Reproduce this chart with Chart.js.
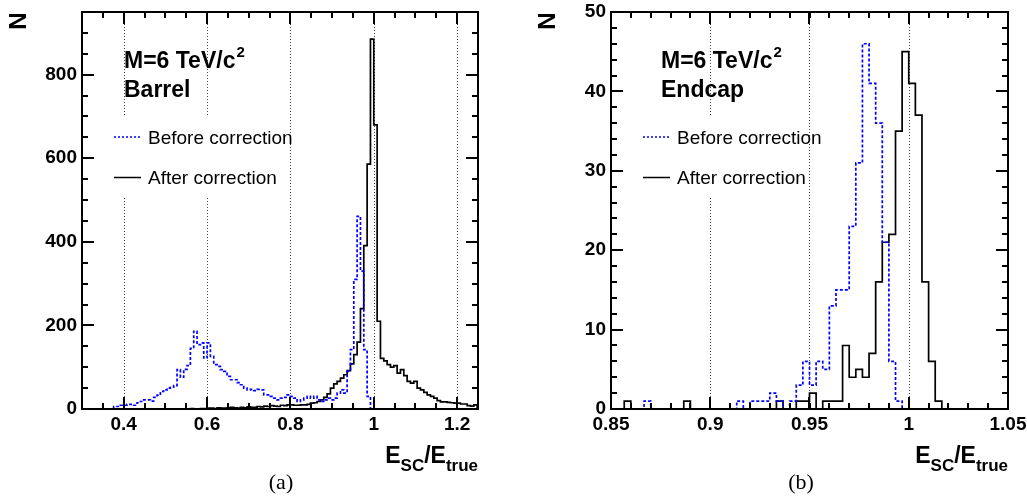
<!DOCTYPE html>
<html>
<head>
<meta charset="utf-8">
<script src="https://cdn.jsdelivr.net/npm/chart.js@4/dist/chart.umd.min.js"></script>
<style>
  html, body { margin: 0; padding: 0; background: #fff; }
  #wrap { position: relative; width: 1027px; height: 497px; }
  canvas { position: absolute; top: 0; }
  #barrelChart { left: 0; }
  #endcapChart { left: 520px; }
</style>
</head>
<body>
<div id="wrap">
  <canvas id="barrelChart" width="510" height="497"></canvas>
  <canvas id="endcapChart" width="507" height="497"></canvas>
</div>
<script>
// (a) Barrel: bins of 0.008 in E_SC/E_true, first bin starts at 0.304
const barrelStart = 0.304;
const barrelWidth = 0.008;
const barrelBefore = [
  0, 0, 0, 0, 0, 0, 0, 0, 0,
  6, 6, 9, 9, 11, 11, 9, 15, 18, 22, 22, 19,
  28, 33, 42, 46, 50, 52, 56, 94, 76, 95, 104, 145,
  186, 154, 158, 122, 158, 126, 106, 102, 94, 90, 78, 70,
  70, 63, 58, 50, 46, 47, 44, 47, 46, 34, 34, 30,
  26, 22, 26, 28, 34, 30, 26, 18, 22, 26, 30, 26,
  30, 22, 18, 22, 26, 22, 26, 38, 46, 38, 90, 142,
  310, 461, 330, 142, 30,
  0, 0, 0, 0, 0, 0, 0, 0, 0, 0, 0, 0, 0, 0, 0, 0,
  0, 0, 0, 0, 0, 0, 0, 0, 0, 0, 0, 0, 0, 0, 0, 0
];
const barrelAfter = [
  0, 0, 0, 0, 0, 0, 0, 0, 0, 0, 0, 0, 0, 0, 0, 0,
  0, 0, 0, 0, 0, 0, 0, 0, 0, 0, 0, 0, 0, 0, 0,
  0, 1, 0, 0, 1, 1, 2,
  2, 1, 3, 2, 2, 3, 4, 3, 2, 4, 3, 5, 4,
  4, 6, 5, 7, 6, 8, 7, 6, 9, 8, 10,
  10, 9, 9, 10, 10, 11, 14, 15, 18, 22,
  28, 36, 50, 60, 66, 74, 82, 92, 108, 130, 160, 240,
  391, 586, 885, 680, 210, 121,
  115, 106, 100, 104, 86, 94, 80, 66, 62, 66, 50, 46, 40, 34,
  30, 26, 20, 17, 17, 16, 15, 14, 14, 12, 12, 8, 7, 10
];
const barrelTicksX = [0.4, 0.6, 0.8, 1.0, 1.2];
const barrelTicksY = [0, 200, 400, 600, 800];

// (b) Endcap: 60 bins between 0.85 and 1.05
const endcapStart = 0.85;
const endcapWidth = 0.2 / 60;
const endcapBefore = [
  0, 0, 0, 0, 0, 1, 0, 0, 0, 0,
  0, 0, 0, 0, 0, 0, 0, 0, 0, 1,
  0, 1, 1, 1, 2, 1, 0, 1, 3, 6,
  3, 6, 5, 13, 15, 15, 23, 31, 46, 41,
  36, 21, 6, 1, 0, 0, 0, 0, 0, 0,
  0, 0, 0, 0, 0, 0, 0, 0, 0, 0
];
const endcapAfter = [
  0, 0, 1, 0, 0, 0, 0, 0, 0, 0,
  0, 1, 0, 0, 0, 0, 0, 0, 0, 0,
  0, 0, 0, 0, 0, 1, 0, 0, 1, 1,
  2, 0, 1, 1, 1, 8, 4, 5, 4, 7,
  16, 21, 22, 35, 45, 41, 37, 16, 6, 1,
  0, 0, 0, 0, 0, 0, 0, 0, 0, 0
];
const endcapTicksX = [0.85, 0.9, 0.95, 1.0, 1.05];
const endcapTicksY = [0, 10, 20, 30, 40, 50];

const BLUE = '#0000ff';
const SANS = '"Liberation Sans", Arial, Helvetica, sans-serif';

// evenly spaced minor tick values between lo and hi
const minorTicks = (lo, hi, step) => {
  const out = [];
  const n0 = Math.round(lo / step), n1 = Math.round(hi / step);
  for (let i = n0; i <= n1; i++) out.push(i * step);
  return out;
};

// bin contents -> points for a stepped outline (horizontal first, then vertical)
const toSteps = (start, width, counts) => {
  const pts = [{ x: start, y: 0 }];
  counts.forEach((n, i) => pts.push({ x: start + i * width, y: n }));
  pts.push({ x: start + counts.length * width, y: 0 });
  return pts;
};

const fmt = v => String(parseFloat(v.toFixed(3)));

// ROOT-like frame with inner ticks, drawn as filled rectangles
const drawFrame = (chart, cfg) => {
  const { ctx, chartArea: a, scales: { x, y } } = chart;
  const L = Math.round(a.left), R = Math.round(a.right);
  const T = Math.round(a.top), B = Math.round(a.bottom);
  ctx.save();
  ctx.globalAlpha = 1;
  ctx.globalCompositeOperation = 'source-over';
  ctx.fillStyle = '#000';
  const tickX = (v, len) => {
    const px = Math.round(x.getPixelForValue(v));
    ctx.fillRect(px - 1, B - len, 2, len);
    ctx.fillRect(px - 1, T, 2, len);
  };
  const tickY = (v, len) => {
    const py = Math.round(y.getPixelForValue(v));
    ctx.fillRect(L, py - 1, len, 2);
    ctx.fillRect(R - len, py - 1, len, 2);
  };
  cfg.minorX.forEach(v => tickX(v, 6));
  cfg.ticksX.forEach(v => tickX(v, 12));
  cfg.minorY.forEach(v => tickY(v, 6));
  cfg.ticksY.forEach(v => tickY(v, 12));
  // frame sides
  ctx.fillRect(L - 1, T - 1, R - L + 2, 2);
  ctx.fillRect(L - 1, B - 1, R - L + 2, 2);
  ctx.fillRect(L - 1, T - 1, 2, B - T + 2);
  ctx.fillRect(R - 1, T - 1, 2, B - T + 2);
  ctx.restore();
};

const makeExtras = (cfg) => ({
  id: 'panelExtras',
  beforeDatasetsDraw(chart) {
    const { ctx, chartArea: a, scales: { x } } = chart;
    ctx.save();
    ctx.strokeStyle = '#444';
    ctx.lineWidth = 1;
    ctx.setLineDash([1, 2]);
    cfg.gridX.forEach(v => {
      const px = Math.round(x.getPixelForValue(v)) + 0.5;
      ctx.beginPath();
      ctx.moveTo(px, a.top);
      ctx.lineTo(px, a.bottom);
      ctx.stroke();
    });
    ctx.restore();
  },
  afterDatasetsDraw(chart) {
    const { ctx, chartArea: a } = chart;
    ctx.save();

    // legend box (white, hides grid lines)
    ctx.fillStyle = '#fff';
    ctx.fillRect(a.left + cfg.box[0], cfg.box[1], cfg.box[2], cfg.box[3]);

    const lx = a.left + cfg.legendX;
    ctx.lineWidth = 1.5;
    ctx.strokeStyle = BLUE;
    ctx.setLineDash([2, 2]);
    ctx.beginPath();
    ctx.moveTo(lx, 137);
    ctx.lineTo(lx + 27, 137);
    ctx.stroke();
    ctx.setLineDash([]);
    ctx.strokeStyle = '#000';
    ctx.beginPath();
    ctx.moveTo(lx, 177.5);
    ctx.lineTo(lx + 27, 177.5);
    ctx.stroke();

    ctx.fillStyle = '#000';
    ctx.textAlign = 'left';
    ctx.textBaseline = 'alphabetic';
    ctx.font = '19px ' + SANS;
    ctx.fillText('Before correction', lx + 34, 144);
    ctx.fillText('After correction', lx + 34, 184);

    // mass and region label
    const tx = a.left + cfg.labelX;
    ctx.font = 'bold 23px ' + SANS;
    ctx.fillText('M=6 TeV/c', tx, 68);
    const mw = ctx.measureText('M=6 TeV/c').width;
    ctx.fillText(cfg.region, tx, 97);
    ctx.font = 'bold 15px ' + SANS;
    ctx.fillText('2', tx + mw + 1, 57);

    // y title "N"
    ctx.save();
    ctx.translate(a.left - 63, 21);
    ctx.rotate(-Math.PI / 2);
    ctx.textAlign = 'center';
    ctx.textBaseline = 'middle';
    ctx.font = 'bold 24px ' + SANS;
    ctx.fillText('N', 0, 0);
    ctx.restore();

    // x title E_SC / E_true, right aligned to the frame
    const big = 'bold 23px ' + SANS, small = 'bold 17px ' + SANS;
    const parts = [['E', big, 0], ['SC', small, 8], ['/', big, 0], ['E', big, 0], ['true', small, 8]];
    let total = 0;
    parts.forEach(p => { ctx.font = p[1]; total += ctx.measureText(p[0]).width; });
    let cx = a.right - total;
    parts.forEach(p => {
      ctx.font = p[1];
      ctx.fillText(p[0], cx, 463 + p[2]);
      cx += ctx.measureText(p[0]).width;
    });

    // panel tag
    ctx.textAlign = 'center';
    ctx.font = '22px "Liberation Serif", "Times New Roman", serif';
    ctx.fillText(cfg.tag, a.left + cfg.tagX, 489);

    ctx.restore();
    drawFrame(chart, cfg);
  },
  afterDraw(chart) {
    drawFrame(chart, cfg);
  },
});

const makeHistChart = (id, cfg) => {
  const ctx = document.getElementById(id).getContext('2d');
  return new Chart(ctx, {
    type: 'line',
    data: {
      datasets: [
        {
          label: 'Before correction',
          data: toSteps(cfg.start, cfg.width, cfg.before),
          borderColor: BLUE,
          borderWidth: 1.7,
          borderDash: [3, 2],
          stepped: true,
          pointRadius: 0,
          fill: false,
        },
        {
          label: 'After correction',
          data: toSteps(cfg.start, cfg.width, cfg.after),
          borderColor: '#000',
          borderWidth: 1.7,
          stepped: true,
          pointRadius: 0,
          fill: false,
        },
      ],
    },
    options: {
      responsive: false,
      animation: false,
      devicePixelRatio: 1,
      layout: { padding: { top: 12, right: cfg.padRight, left: 0, bottom: 0 } },
      plugins: {
        legend: { display: false },
        tooltip: { enabled: false },
      },
      scales: {
        x: {
          type: 'linear',
          min: cfg.xMin,
          max: cfg.xMax,
          grid: { display: false, drawTicks: false },
          border: { display: false },
          afterBuildTicks: s => { s.ticks = cfg.ticksX.map(value => ({ value })); },
          afterFit: s => { s.height = 88; s.paddingLeft = 0; s.paddingRight = 0; },
          ticks: {
            autoSkip: false,
            maxRotation: 0,
            padding: 4,
            color: '#000',
            font: { family: SANS, weight: 'bold', size: 19 },
            callback: v => fmt(v),
          },
        },
        y: {
          min: 0,
          max: cfg.yMax,
          grid: { display: false, drawTicks: false },
          border: { display: false },
          afterBuildTicks: s => { s.ticks = cfg.ticksY.map(value => ({ value })); },
          afterFit: s => { s.width = cfg.yWidth; s.paddingTop = 0; s.paddingBottom = 0; },
          ticks: {
            padding: 5,
            color: '#000',
            font: { family: SANS, weight: 'bold', size: 19 },
            callback: v => fmt(v),
          },
        },
      },
    },
    plugins: [makeExtras(cfg)],
  });
};

makeHistChart('barrelChart', {
  start: barrelStart, width: barrelWidth,
  before: barrelBefore, after: barrelAfter,
  xMin: 0.3, xMax: 1.25, yMax: 950,
  yWidth: 82, padRight: 32,
  gridX: barrelTicksX, ticksX: barrelTicksX, ticksY: barrelTicksY,
  minorX: minorTicks(0.3, 1.25, 0.05), minorY: minorTicks(0, 950, 50),
  box: [14, 115, 191, 82], legendX: 32, labelX: 42,
  region: 'Barrel', tag: '(a)', tagX: 199,
});

makeHistChart('endcapChart', {
  start: endcapStart, width: endcapWidth,
  before: endcapBefore, after: endcapAfter,
  xMin: 0.85, xMax: 1.05, yMax: 50,
  yWidth: 91, padRight: 19,
  gridX: [0.9, 0.95, 1.0], ticksX: endcapTicksX, ticksY: endcapTicksY,
  minorX: minorTicks(0.85, 1.05, 0.01), minorY: minorTicks(0, 50, 2),
  box: [14, 115, 181, 83], legendX: 32, labelX: 50,
  region: 'Endcap', tag: '(b)', tagX: 190,
});
</script>
</body>
</html>
